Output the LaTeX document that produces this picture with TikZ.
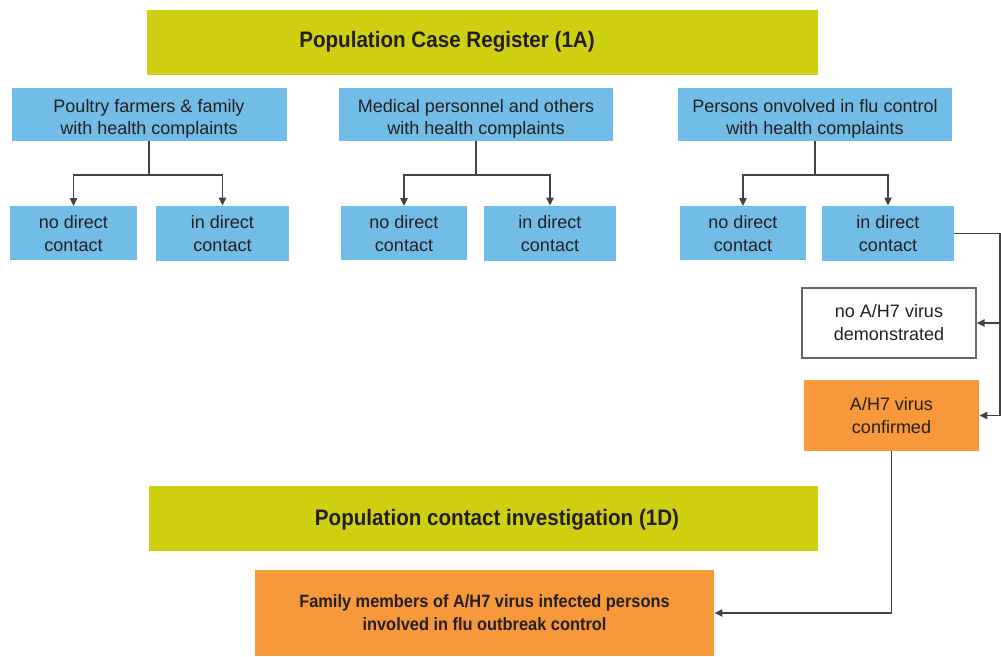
\documentclass[tikz,border=0pt]{standalone}
\usepackage{fontspec}
\setmainfont{Liberation Sans}[BoldFeatures={FakeStretch=0.92}]
\usetikzlibrary{arrows.meta, positioning}
\definecolor{barcol}{RGB}{208,208,18}
\definecolor{bluecol}{RGB}{114,188,232}
\definecolor{orangecol}{RGB}{247,153,58}
\definecolor{inkcol}{RGB}{35,31,32}
% extra room above the first line of a box
\newcommand{\topstrut}{\rule{0pt}{10.6pt}}
\tikzset{
    bar/.style={
        rectangle, fill=barcol, inner sep=0pt
    },
    title/.style={
        anchor=base, inner sep=0pt,
        font=\bfseries\fontsize{11.2}{14}\selectfont, text=inkcol
    },
    group/.style={
        rectangle, fill=bluecol, inner sep=0pt, align=center,
        font=\fontsize{9}{11.2}\selectfont, text=inkcol
    },
    result/.style={
        rectangle, draw=black!60, line width=0.6pt, fill=white, inner sep=0pt,
        align=center, font=\fontsize{9}{11.5}\selectfont, text=inkcol
    },
    alert/.style={
        rectangle, fill=orangecol, inner sep=0pt, align=center,
        font=\fontsize{9}{11.5}\selectfont, text=inkcol
    },
    wire/.style={draw=inkcol!85, line width=0.75pt,
        -{Triangle[length=4pt, width=3.6pt]}},
    line/.style={draw=inkcol!85, line width=0.75pt}
}

\begin{document}
\begin{tikzpicture}[x=0.5pt, y=-0.5pt]
\useasboundingbox (0,0) rectangle (1001,657);

% Case register
\node[bar, minimum width=335.5pt, minimum height=32.5pt] (reg) at (482.5,42.5) {};
\node[title] (regTitle) at (447,47.7) {Population Case Register (1A)};

% Groups with complaints
\node[group, minimum width=137.5pt, minimum height=26.5pt] (poultry) at (149,114.5) {\topstrut Poultry farmers \& family\\with health complaints};
\node[group, minimum width=137pt, minimum height=26.5pt] (medical) at (476,114.5) {\topstrut Medical personnel and others\\with health complaints};
\node[group, minimum width=137pt, minimum height=26.5pt] (control) at (815,114.5) {\topstrut Persons onvolved in flu control\\with health complaints};

% Contact boxes
\node[group, minimum width=63.5pt, minimum height=27pt] (pNo) at (73.5,233.5) {no direct\\contact};
\node[group, minimum width=66.5pt, minimum height=27.5pt] (pIn) at (222.5,233.5) {in direct\\contact};
\node[group, minimum width=63pt, minimum height=27pt] (mNo) at (404,233.5) {no direct\\contact};
\node[group, minimum width=66pt, minimum height=27.5pt] (mIn) at (550,233.5) {in direct\\contact};
\node[group, minimum width=63pt, minimum height=27pt] (cNo) at (743,233.5) {no direct\\contact};
\node[group, minimum width=66pt, minimum height=27.5pt] (cIn) at (888,233.5) {in direct\\contact};

\draw[line] (poultry.south) -- (149,175) coordinate (pSplit);
\draw[wire] (pSplit) -| (pNo.north);
\draw[wire] (pSplit) -| (pIn.north);
\draw[line] (medical.south) -- (476,175) coordinate (mSplit);
\draw[wire] (mSplit) -| (mNo.north);
\draw[wire] (mSplit) -| (mIn.north);
\draw[line] (control.south) -- (815,175) coordinate (cSplit);
\draw[wire] (cSplit) -| (cNo.north);
\draw[wire] (cSplit) -| (cIn.north);

% Laboratory results
\node[result, minimum width=87pt, minimum height=35pt] (nodemo) at (889,323) {no A/H7 virus\\demonstrated};
\node[alert, minimum width=87.5pt, minimum height=35.5pt] (conf) at (891.5,415.5) {A/H7 virus\\confirmed};

\coordinate (rail) at (1000,233.5);
\draw[line] (cIn.east) -- (rail);
\draw[wire] (rail) |- (nodemo.east);
\draw[wire] (rail) |- (conf.east);

% Contact investigation
\node[bar, minimum width=334.5pt, minimum height=32.5pt] (inv) at (483.5,518.5) {};
\node[title] (invTitle) at (497,525) {Population contact investigation (1D)};
\node[alert, minimum width=229.5pt, minimum height=43pt, font=\bfseries\fontsize{8.9}{11.5}\selectfont] (family) at (484.5,613) {Family members of A/H7 virus infected persons\\involved in flu outbreak control};

\draw[wire] (conf.south) |- (family.east);

\end{tikzpicture}
\end{document}
